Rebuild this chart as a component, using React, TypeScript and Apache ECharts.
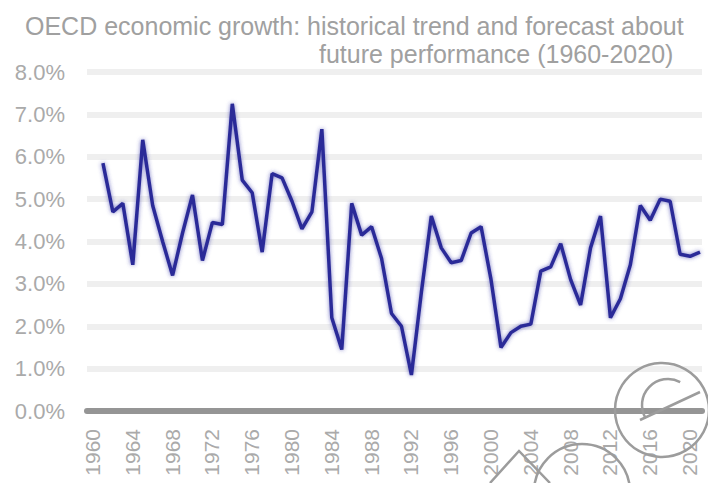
import React, { useEffect, useRef } from 'react';
import * as echarts from 'echarts';

const titleLine1 = 'OECD economic growth: historical trend and forecast about';
const titleLine2 = 'future performance (1960-2020)';

const years: number[] = Array.from({ length: 61 }, (_, i) => 1960 + i);

const growth: number[] = [
  5.85, 4.7, 4.9, 3.45, 6.4, 4.85, 4.0, 3.2, 4.2, 5.1,
  3.55, 4.45, 4.4, 7.25, 5.45, 5.15, 3.75, 5.6, 5.5, 4.95,
  4.3, 4.7, 6.65, 2.2, 1.45, 4.9, 4.15, 4.35, 3.6, 2.3,
  2.0, 0.85, 2.8, 4.6, 3.85, 3.5, 3.55, 4.2, 4.35, 3.1,
  1.5, 1.85, 2.0, 2.05, 3.3, 3.4, 3.95, 3.1, 2.5, 3.85,
  4.6, 2.2, 2.65, 3.45, 4.85, 4.5, 5.0, 4.95, 3.7, 3.65,
  3.75,
];

const labelYears: number[] = [
  1960, 1964, 1968, 1972, 1976, 1980, 1984, 1988,
  1992, 1996, 2000, 2004, 2008, 2012, 2016, 2020,
];

const FONT = '"Liberation Sans", Arial, sans-serif';

export default function App() {
  const ref = useRef<HTMLDivElement>(null);

  useEffect(() => {
    if (!ref.current) return;
    const chart = echarts.init(ref.current, undefined, { renderer: 'svg' });
    const wmStyle = { stroke: '#9c9c9c', fill: 'none', lineWidth: 2.5 };
    chart.setOption({
      animation: false,
      backgroundColor: '#ffffff',
      title: [
        {
          text: titleLine1,
          left: 20,
          top: 8,
          textStyle: { fontSize: 25, color: '#a0a0a0', fontWeight: 'normal', fontFamily: FONT },
        },
        {
          text: titleLine2,
          left: 314,
          top: 36,
          textStyle: { fontSize: 25, color: '#a0a0a0', fontWeight: 'normal', fontFamily: FONT },
        },
      ],
      grid: { left: 87, right: 6, top: 72, bottom: 72, containLabel: false },
      xAxis: {
        type: 'value',
        min: 1958.4,
        max: 2020.2,
        splitLine: { show: false },
        axisTick: { show: false },
        axisLine: { show: true, lineStyle: { color: '#959595', width: 6 } },
        axisLabel: {
          customValues: labelYears,
          rotate: 90,
          margin: 18,
          color: '#aaaaaa',
          fontSize: 21,
          fontFamily: FONT,
          verticalAlign: 'bottom',
          formatter: (v: number) => String(v),
        },
      },
      yAxis: {
        type: 'value',
        min: 0,
        max: 8,
        interval: 1,
        axisLine: { show: false },
        axisTick: { show: false },
        splitLine: { show: true, lineStyle: { color: '#efefef', width: 6 } },
        axisLabel: {
          margin: 22,
          color: '#aaaaaa',
          fontSize: 22,
          fontFamily: FONT,
          formatter: (v: number) => v.toFixed(1) + '%',
        },
      },
      series: [
        {
          type: 'line',
          data: years.map((y, i) => [y, growth[i]]),
          symbol: 'none',
          clip: false,
          lineStyle: {
            color: '#2c2c98',
            width: 3.5,
            shadowColor: 'rgba(60,60,170,0.7)',
            shadowBlur: 4,
          },
        },
      ],
      graphic: [
        { type: 'polyline', z: 100, shape: { points: [[490, 483], [519, 451], [550, 483]] }, style: wmStyle },
        { type: 'arc', z: 100, shape: { cx: 582, cy: 492, r: 48, startAngle: Math.PI, endAngle: 2 * Math.PI }, style: wmStyle },
        { type: 'circle', z: 100, shape: { cx: 662, cy: 410, r: 47 }, style: wmStyle },
        { type: 'arc', z: 100, shape: { cx: 668, cy: 405, r: 26, startAngle: 2.6, endAngle: 5.2 }, style: wmStyle },
        { type: 'line', z: 100, shape: { x1: 640, y1: 420, x2: 700, y2: 392 }, style: wmStyle },
      ],
    });
    return () => chart.dispose();
  }, []);

  return (
    <div
      ref={ref}
      style={{ position: 'fixed', left: 0, top: 0, width: 708, height: 483, background: '#fff' }}
    />
  );
}
